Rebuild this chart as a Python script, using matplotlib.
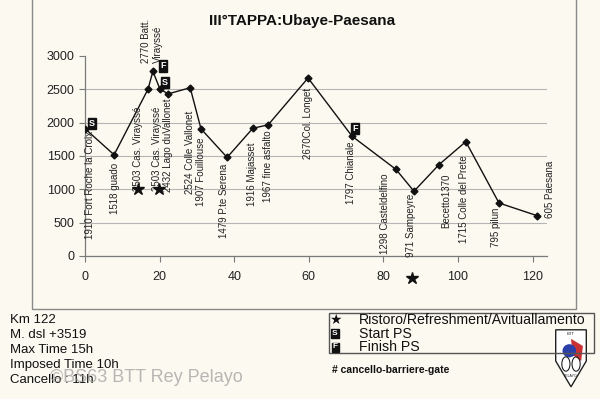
import numpy as np
import matplotlib.pyplot as plt
from matplotlib.patches import Rectangle, Polygon, Circle, Ellipse

plt.rcParams['font.family'] = ['Liberation Sans', 'DejaVu Sans']

# profile data (km, altitude, place)
km = [0, 7.8, 16.9, 18.2, 20.1, 22.3, 28.2, 31.1, 38.1, 45.0, 49.1,
      59.8, 71.6, 83.4, 88.2, 94.9, 102.1, 111.0, 121.2]
alt = [1910, 1518, 2503, 2770, 2503, 2432, 2524, 1907, 1479, 1916, 1967,
       2670, 1797, 1298, 971, 1370, 1715, 795, 605]
names = ["1910 Fort Roche la Croix", "1518 guado", "2503 Cas. Virayssé",
         "2770 Batt.\nVirayssé", "2503 Cas. Virayssé", "2432 Lago duVallonet",
         "2524 Colle Vallonet", "1907 Fouillouse", "1479 P.te Serena",
         "1916 Majasset", "1967 fine asfalto", "2670Col. Longet",
         "1797 Chianale", "1298 Casteldelfino", "971 Sampeyre",
         "Becetto1370", "1715 Colle del Prete", "795 pilun", "605 Paesana"]

# refreshment points (stars), start / finish of special stages
star_km = [14.1, 19.8, 87.6]
star_alt = [1000, 1000, -330]
start_km = [1.9, 21.4]
start_alt = [1985, 2600]
finish_km = [20.9, 72.4]
finish_alt = [2850, 1910]

info_lines = ["Km 122", "M. dsl +3519", "Max Time 15h", "Imposed Time 10h", "Cancello : 11h"]
legend_items = ["Ristoro/Refreshment/Avituallamento", "Start PS", "Finish PS"]

# label offsets in pixels (dx right, dy down) from each point
lab_dx = [5, 1, -10, -1, -3, 0, 0, 0, -3, -1, 0, 0, -1, -11, -3, 7, -2, -3, 13]
lab_dy = [2, 8, 17, -8, 17, 5, 23, 9, 6, 14, 6, 10, 5, 4, 2, 9, 14, 5, -26]

W, H = 600, 399
bg = '#fbf9f0'

def fx(x):
    return x / W

def fy(y):
    return 1 - y / H

fig = plt.figure(figsize=(6, 3.99), dpi=100, facecolor=bg)

# outer chart frame
fig.add_artist(Rectangle((fx(32), fy(309)), fx(576) - fx(32), fy(-20) - fy(309),
                         transform=fig.transFigure, fill=False, edgecolor='#8a8a8a', lw=1))

ax = fig.add_axes([fx(85), fy(256), fx(547.5) - fx(85), fy(56) - fy(256)])
ax.set_facecolor('none')
ax.set_xlim(0, 124)
ax.set_ylim(0, 3000)
ax.set_xticks(np.arange(0, 121, 20))
ax.set_yticks(np.arange(0, 3001, 500))
ax.yaxis.grid(True, color='#b5b5b5', lw=0.8)
ax.get_ygridlines()[-1].set_visible(False)
ax.set_axisbelow(True)
for s in ['top', 'right']:
    ax.spines[s].set_visible(False)
for s in ['left', 'bottom']:
    ax.spines[s].set_color('#7a7a7a')
    ax.spines[s].set_linewidth(0.9)
ax.tick_params(axis='both', colors='#7a7a7a', labelcolor='#222222', labelsize=9, length=4)
ax.tick_params(axis='x', pad=7)

ax.plot(km, alt, color='#111111', lw=1.0, marker='D', markersize=3.5, zorder=3)

for i in range(len(km)):
    if lab_dy[i] < 0 and i == 3:
        ax.annotate(names[i], (km[i], alt[i]), xytext=(lab_dx[i], -lab_dy[i]),
                    textcoords='offset pixels', rotation=90, ha='center', va='bottom',
                    multialignment='left', fontsize=7, color='#222222')
    elif lab_dy[i] < 0:
        ax.annotate(names[i], (km[i], alt[i]), xytext=(lab_dx[i], -lab_dy[i]),
                    textcoords='offset pixels', rotation=90, ha='center', va='center',
                    fontsize=7, color='#222222')
    else:
        ax.annotate(names[i], (km[i], alt[i]), xytext=(lab_dx[i], -lab_dy[i]),
                    textcoords='offset pixels', rotation=90, ha='center', va='top',
                    fontsize=7, color='#222222')

ax.plot(star_km, star_alt, linestyle='none', marker='*', markersize=9,
        color='#111111', clip_on=False, zorder=4)

box = dict(boxstyle='square,pad=0.12', facecolor='#111111', edgecolor='#111111')
for x, y in zip(start_km, start_alt):
    ax.text(x, y, 'S', color='white', fontsize=6.5, fontweight='bold',
            ha='center', va='center', bbox=box, zorder=5)
for x, y in zip(finish_km, finish_alt):
    ax.text(x, y, 'F', color='white', fontsize=6.5, fontweight='bold',
            ha='center', va='center', bbox=box, zorder=5)

# title
fig.text(fx(302), fy(21), "III°TAPPA:Ubaye-Paesana", fontsize=11, fontweight='bold',
         ha='center', va='center', color='#111111')

# info block bottom-left
for i, line in enumerate(info_lines):
    fig.text(fx(10), fy(320 + i * 15), line, fontsize=9.5, ha='left', va='center', color='#111111')
fig.text(fx(50), fy(377), "©BS63 BTT Rey Pelayo", fontsize=13, ha='left', va='center',
         color='#9a9a9a', alpha=0.7)

# legend
fig.add_artist(Rectangle((fx(329), fy(353)), fx(594) - fx(329), fy(313) - fy(353),
                         transform=fig.transFigure, fill=False, edgecolor='#555555', lw=1))
fig.text(fx(335), fy(320), '★', fontsize=10, ha='center', va='center', color='#111111',
         family=['DejaVu Sans'])
fig.text(fx(335), fy(333.5), 'S', fontsize=6, fontweight='bold', ha='center', va='center',
         color='white', bbox=box)
fig.text(fx(335), fy(347), 'F', fontsize=6, fontweight='bold', ha='center', va='center',
         color='white', bbox=box)
for i, t in enumerate(legend_items):
    fig.text(fx(359), fy(320 + i * 13.5), t, fontsize=10.2, ha='left', va='center', color='#111111')
fig.text(fx(332), fy(370), "# cancello-barriere-gate", fontsize=7.5, fontweight='bold',
         ha='left', va='center', color='#111111')

# small club logo
lg = fig.add_axes([fx(554), fy(388), fx(588) - fx(554), fy(328) - fy(388)])
lg.set_xlim(0, 1)
lg.set_ylim(0, 1)
lg.axis('off')
lg.add_patch(Polygon([[0.05, 0.97], [0.95, 0.97], [0.95, 0.45], [0.5, 0.02], [0.05, 0.45]],
                     closed=True, facecolor='white', edgecolor='#222222', lw=1))
lg.add_patch(Polygon([[0.5, 0.82], [0.85, 0.7], [0.8, 0.45], [0.55, 0.55]],
                     closed=True, facecolor='#c83232', edgecolor='none'))
lg.add_patch(Ellipse((0.45, 0.62), 0.4, 0.22, facecolor='#2a3fa8', edgecolor='none'))
lg.add_patch(Circle((0.35, 0.4), 0.12, fill=False, edgecolor='#222222', lw=0.8))
lg.add_patch(Circle((0.65, 0.4), 0.12, fill=False, edgecolor='#222222', lw=0.8))
lg.text(0.5, 0.9, 'BTT', fontsize=3, ha='center', va='center', color='#222222')
lg.text(0.5, 0.2, 'PELAYO', fontsize=2.5, ha='center', va='center', color='#222222')

fig.savefig('out.png', dpi=100, facecolor=bg)
